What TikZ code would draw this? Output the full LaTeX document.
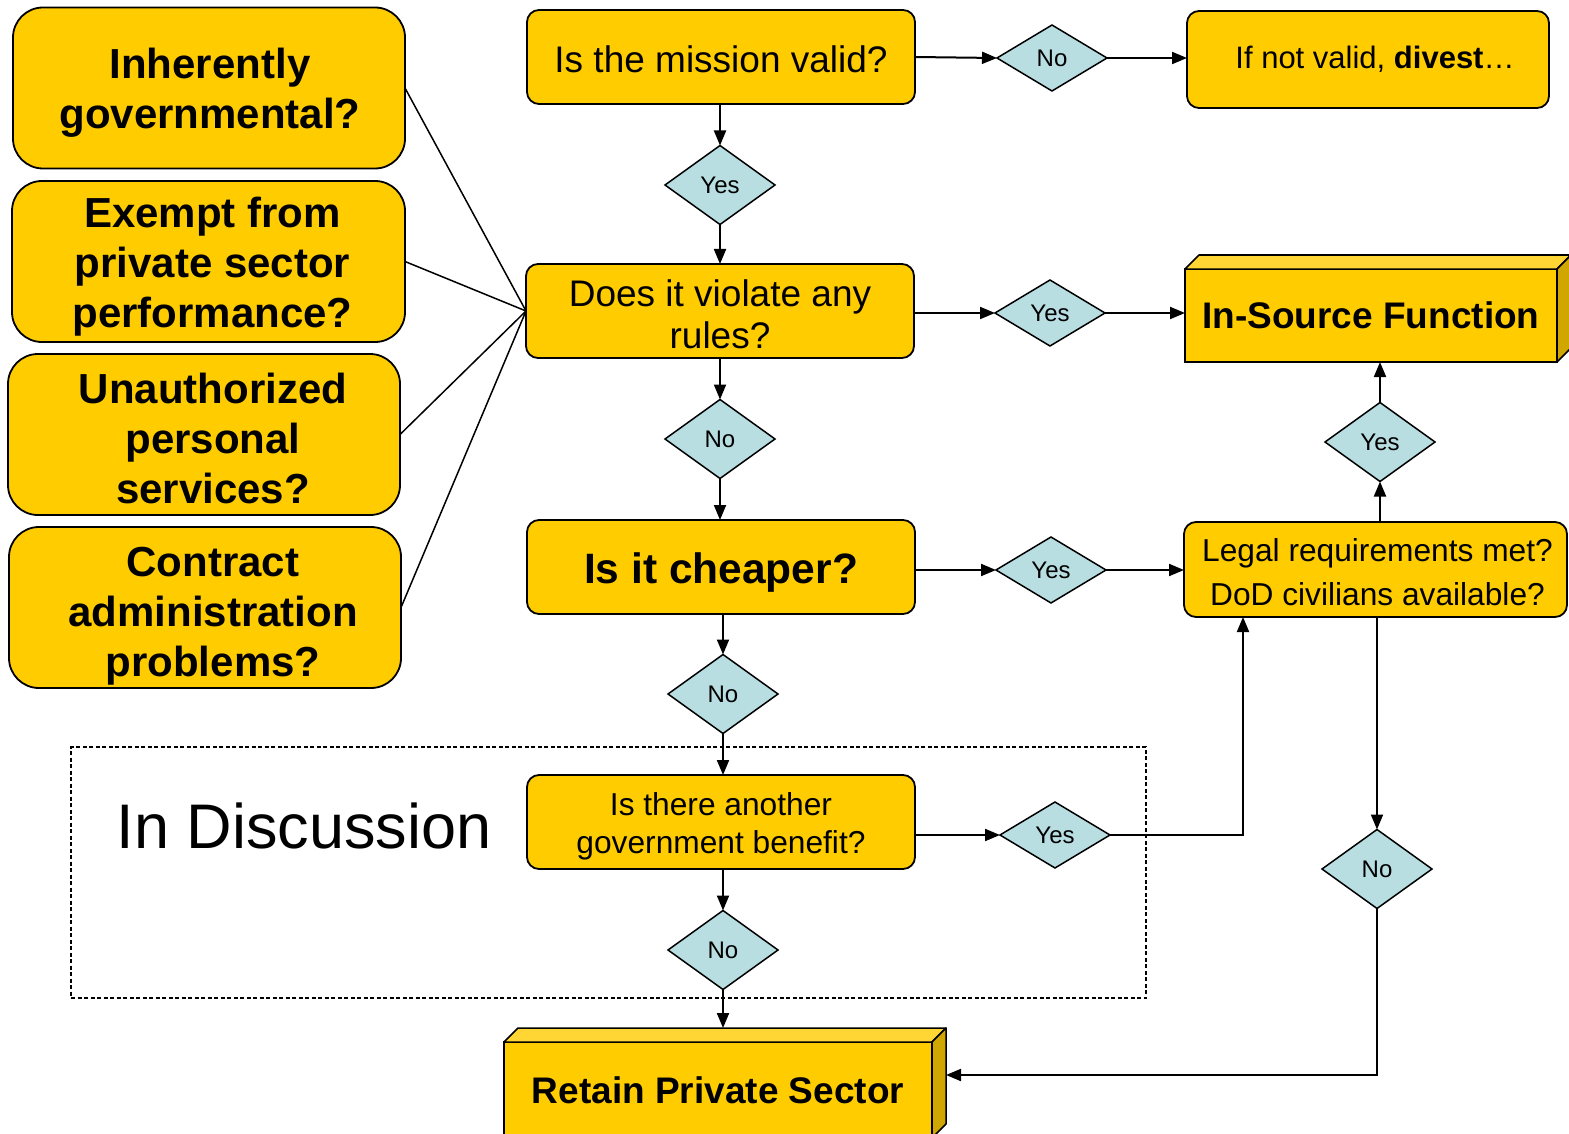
\documentclass[tikz,border=0pt]{standalone}
\usepackage{fontspec}
\setmainfont{Liberation Sans}
\usetikzlibrary{shapes.geometric,arrows.meta,calc}
\definecolor{gold}{HTML}{FFCC00}
\definecolor{goldtop}{HTML}{FFD633}
\definecolor{goldside}{HTML}{D0A600}
\definecolor{dia}{HTML}{B8DEE2}
\newcommand\mv[3]{\raisebox{-#2pt}[\height][\depth]{\hspace*{#1pt}#3\hspace*{-#1pt}}}
\begin{document}
\begin{tikzpicture}[x=1pt,y=-1pt,
 every node/.style={inner sep=0pt, outer sep=0pt},
 bigq/.style={draw,line width=1.8pt,fill=gold,rounded corners=30pt,minimum width=392pt,minimum height=161pt,align=center,font=\fontsize{42}{50}\selectfont\bfseries},
 qbox/.style={draw,line width=1.8pt,fill=gold,rounded corners=12pt,align=center},
 dh/.style={draw,line width=1.5pt,fill=dia,diamond,minimum width=110pt,minimum height=66pt,font=\fontsize{24}{28}\selectfont},
 dv/.style={dh,minimum height=79pt},
 arr/.style={line width=2pt,-{Triangle[length=15pt,width=12pt]}},
 ln/.style={line width=1.5pt}]
\useasboundingbox (0,0) rectangle (1569,1134);
\fill[white] (0,0) rectangle (1569,1134);
% dashed discussion area
\node[draw,line width=1.2pt,dash pattern=on 4pt off 2.5pt,minimum width=1075pt,minimum height=251pt] (disc) at (608.5,872.5) {};
\node[font=\fontsize{63}{70}\selectfont] (disct) at (304,826) {In Discussion};
% left boxes
\node[bigq] (b1) at (209,88) {\mv{1}{5}{Inherently}\\\mv{1}{5}{governmental?}};
\node[bigq,minimum width=393pt] (b2) at (208.5,261.5) {\mv{4}{5}{Exempt from}\\\mv{4}{5}{private sector}\\\mv{4}{5}{performance?}};
\node[bigq] (b3) at (204,434.5) {\mv{9}{4}{Unauthorized}\\\mv{9}{4}{personal}\\\mv{9}{4}{services?}};
\node[bigq] (b4) at (205,607.5) {\mv{8}{8.5}{Contract}\\\mv{8}{8.5}{administration}\\\mv{8}{8.5}{problems?}};
% centre column
\node[qbox,minimum width=388pt,minimum height=94pt,font=\fontsize{37}{44}\selectfont] (mission) at (721,57) {\mv{0}{2}{Is the mission valid?}};
\node[qbox,minimum width=388pt,minimum height=94pt,font=\fontsize{37}{42}\selectfont] (viol) at (720,311) {\mv{0}{3.5}{Does it violate any}\\\mv{0}{3.5}{rules?}};
\node[qbox,minimum width=388pt,minimum height=94pt,font=\fontsize{42.5}{50}\selectfont\bfseries] (cheap) at (721,567) {\mv{0}{5.5}{Is it cheaper?}};
\node[qbox,minimum width=388pt,minimum height=94pt,font=\fontsize{31.7}{38}\selectfont] (ben) at (721,822) {\mv{0}{4}{Is there another}\\\mv{0}{4}{government benefit?}};
% right column
\node[qbox,minimum width=362pt,minimum height=97pt,font=\fontsize{31}{36}\selectfont] (divest) at (1368,59.5) {\mv{7}{0}{If not valid, \textbf{divest}…}};
\node[qbox,minimum width=383pt,minimum height=95pt,font=\fontsize{31.7}{44}\selectfont] (legal) at (1375.5,569.5) {\mv{2}{2.5}{Legal requirements met?}\\\mv{2}{2.5}{DoD civilians available?}};
% 3D boxes
\node[draw,line width=1.8pt,fill=gold,minimum width=372pt,minimum height=93pt,font=\fontsize{37}{44}\selectfont\bfseries] (insrc) at (1371,315.5) {In-Source Function};
\filldraw[fill=goldtop,line width=1.5pt,line join=round] (insrc.north west) -- ++(14,-14) -- ([shift={(14,-14)}]insrc.north east) -- (insrc.north east) -- cycle;
\filldraw[fill=goldside,line width=1.5pt,line join=round] (insrc.north east) -- ++(14,-14) -- ([shift={(14,-14)}]insrc.south east) -- (insrc.south east) -- cycle;
\node[draw,line width=1.8pt,fill=gold,minimum width=428pt,minimum height=96pt,font=\fontsize{37}{44}\selectfont\bfseries] (retain) at (718,1090) {Retain Private Sector};
\filldraw[fill=goldtop,line width=1.5pt,line join=round] (retain.north west) -- ++(14,-14) -- ([shift={(14,-14)}]retain.north east) -- (retain.north east) -- cycle;
\filldraw[fill=goldside,line width=1.5pt,line join=round] (retain.north east) -- ++(14,-14) -- ([shift={(14,-14)}]retain.south east) -- (retain.south east) -- cycle;
% diamonds
\node[dh] (dno1) at (1052,58) {No};
\node[dv] (dy1) at (720,185) {Yes};
\node[dh] (dy2) at (1050,313) {Yes};
\node[dv] (dno2) at (720,439) {No};
\node[dv] (dyr) at (1380,442) {Yes};
\node[dh] (dy3) at (1051,570) {Yes};
\node[dv] (dno3) at (723,694) {No};
\node[dh] (dy4) at (1055,835) {Yes};
\node[dv] (dnr) at (1377,869) {No};
\node[dv] (dno4) at (723,950) {No};
% left connectors
\draw[ln] (b1.east) -- (viol.west);
\draw[ln] (b2.east) -- (viol.west);
\draw[ln] (b3.east) -- (viol.west);
\draw[ln] (b4.east) -- (viol.west);
% arrows
\draw[arr] (mission.east) -- (dno1.west);
\draw[arr] (dno1.east) -- (divest.west |- dno1);
\draw[arr] (mission.south -| dy1) -- (dy1.north);
\draw[arr] (dy1.south) -- (dy1.south |- viol.north);
\draw[arr] (viol.east |- dy2) -- (dy2.west);
\draw[arr] (dy2.east) -- (dy2.east -| insrc.west);
\draw[arr] (viol.south -| dno2) -- (dno2.north);
\draw[arr] (dno2.south) -- (dno2.south |- cheap.north);
\draw[arr] (cheap.east |- dy3) -- (dy3.west);
\draw[arr] (dy3.east) -- (dy3.east -| legal.west);
\draw[arr] (cheap.south -| dno3) -- (dno3.north);
\draw[arr] (dno3.south) -- (dno3.south |- ben.north);
\draw[arr] (ben.east |- dy4) -- (dy4.west);
\coordinate (lin) at ([shift={(59,0)}]legal.south west);
\draw[arr] (dy4.east) -| (lin);
\draw[arr] (ben.south -| dno4) -- (dno4.north);
\coordinate (rtop) at ([shift={(0,-14)}]retain.north);
\draw[arr] (dno4.south) -- (dno4.south |- rtop);
\draw[arr] (legal.north -| dyr) -- (dyr.south);
\draw[arr] (dyr.north) -- (dyr.north |- insrc.south);
\draw[arr] (legal.south -| dnr) -- (dnr.north);
\coordinate (rside) at ([shift={(14,-15)}]retain.east);
\draw[arr] (dnr.south) |- (rside);
\end{tikzpicture}
\end{document}
